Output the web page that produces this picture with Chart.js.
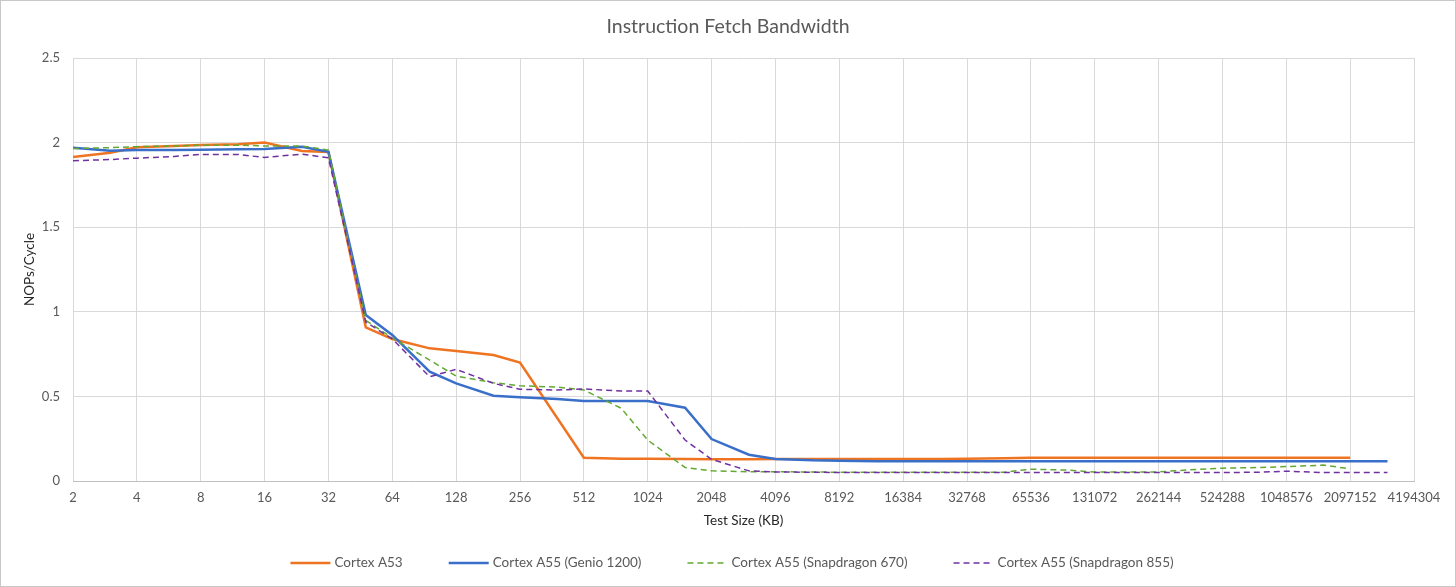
<!DOCTYPE html>
<html>
<head>
<meta charset="utf-8">
<title>Instruction Fetch Bandwidth</title>
<script src="https://cdn.jsdelivr.net/npm/chart.js@4.4.1/dist/chart.umd.min.js"></script>
<style>
  html, body { margin: 0; padding: 0; background: #fff; }
  #wrap { width: 1456px; height: 587px; }
</style>
</head>
<body>
<div id="wrap"><canvas id="fetch-chart" width="1456" height="587"></canvas></div>
<script>
// test sizes in KB and NOPs/cycle
const testSizesKB = [2, 3, 4, 6, 8, 12, 16, 24, 32, 48, 64, 96, 128, 192, 256, 384, 512, 768, 1024, 1536,
  2048, 3072, 4096, 6144, 8192, 12288, 16384, 24576, 32768, 49152, 65536, 98304, 131072, 196608, 262144,
  393216, 524288, 786432, 1048576, 1572864, 2097152, 3145728];

const cortexA53 = [1.915, 1.94, 1.972, 1.98, 1.986, 1.99, 2.0, 1.95, 1.945, 0.908, 0.839, 0.784, 0.768, 0.745, 0.70,
  null, 0.138, 0.132, 0.131, 0.13, 0.128, 0.128, 0.13, 0.13, 0.13, 0.13, 0.13, 0.13, 0.131, 0.134, 0.137,
  0.137, 0.137, 0.137, 0.137, 0.137, 0.137, 0.137, 0.137, 0.137, 0.137, null];

const cortexA55Genio = [1.97, 1.952, 1.956, 1.956, 1.958, 1.96, 1.962, 1.976, 1.946, 0.981, 0.863, 0.646, 0.577, 0.504, 0.495,
  0.485, 0.473, 0.473, 0.473, 0.433, 0.248, 0.155, 0.13, 0.122, 0.12, 0.117, 0.117, 0.117, 0.117, 0.117, 0.117,
  0.117, 0.117, 0.117, 0.117, 0.117, 0.117, 0.117, 0.117, 0.117, 0.117, 0.117];

const cortexA55Sd670 = [1.965, 1.97, 1.976, 1.98, 1.985, 1.985, 1.98, 1.98, 1.956, 0.95, 0.845, 0.715, 0.62, 0.581, 0.563,
  0.555, 0.538, 0.43, 0.242, 0.08, 0.06, 0.055, 0.055, 0.053, 0.052, 0.052, 0.052, 0.052, 0.052, 0.052, 0.07,
  0.064, 0.053, 0.053, 0.054, 0.068, 0.076, 0.08, 0.085, 0.094, 0.072, null];

const cortexA55Sd855 = [1.893, 1.90, 1.908, 1.918, 1.93, 1.93, 1.912, 1.932, 1.91, 0.94, 0.84, 0.616, 0.66, 0.577, 0.542,
  0.538, 0.544, 0.532, 0.532, 0.242, 0.128, 0.06, 0.053, 0.052, 0.05, 0.05, 0.05, 0.05, 0.05, 0.05, 0.05,
  0.05, 0.05, 0.05, 0.05, 0.05, 0.05, 0.052, 0.058, 0.05, 0.05, 0.05];

const sizeTicks = [2, 4, 8, 16, 32, 64, 128, 256, 512, 1024, 2048, 4096, 8192, 16384, 32768, 65536,
  131072, 262144, 524288, 1048576, 2097152, 4194304];

const yTicks = [0, 0.5, 1, 1.5, 2, 2.5];

const fontFamily = "Lato, 'Open Sans', sans-serif";

function toPoints(values) {
  return testSizesKB.map((s, i) => ({ x: s, y: values[i] }));
}

// legend drawn under the axis title, line + label like the office chart
const bottomLegend = {
  id: "bottomLegend",
  afterDraw(chart) {
    const ctx = chart.ctx;
    const sets = chart.data.datasets;
    const lineLen = 40, textGap = 4, itemGap = 46, y = 563;
    ctx.save();
    ctx.font = "13.5px " + fontFamily;
    const widths = sets.map(d => lineLen + textGap + ctx.measureText(d.label).width);
    const total = widths.reduce((a, b) => a + b, 0) + itemGap * (sets.length - 1);
    let x = (chart.width - total) / 2 + 4;
    sets.forEach((d, i) => {
      ctx.beginPath();
      ctx.setLineDash(d.borderDash || []);
      ctx.lineWidth = d.borderDash ? 1.5 : 2.5;
      ctx.strokeStyle = d.borderColor;
      ctx.moveTo(x, y);
      ctx.lineTo(x + lineLen, y);
      ctx.stroke();
      ctx.setLineDash([]);
      ctx.fillStyle = "#595959";
      ctx.textBaseline = "middle";
      ctx.fillText(d.label, x + lineLen + textGap, y);
      x += widths[i] + itemGap;
    });
    // outer frame
    ctx.strokeStyle = "#c8c8c8";
    ctx.lineWidth = 1;
    ctx.strokeRect(0.5, 0.5, chart.width - 1, chart.height - 1);
    ctx.restore();
  }
};

const ctx = document.getElementById("fetch-chart").getContext("2d");

const fetchChart = new Chart(ctx, {
  type: "line",
  data: {
    datasets: [
      {
        label: "Cortex A53",
        data: toPoints(cortexA53),
        borderColor: "#EF7422",
        borderWidth: 2.5,
        spanGaps: true,
        order: 3
      },
      {
        label: "Cortex A55 (Genio 1200)",
        data: toPoints(cortexA55Genio),
        borderColor: "#3A6FC9",
        borderWidth: 2.5,
        order: 2
      },
      {
        label: "Cortex A55 (Snapdragon 670)",
        data: toPoints(cortexA55Sd670),
        borderColor: "#62A832",
        borderWidth: 1.5,
        borderDash: [6, 4],
        order: 1
      },
      {
        label: "Cortex A55 (Snapdragon 855)",
        data: toPoints(cortexA55Sd855),
        borderColor: "#7030A0",
        borderWidth: 1.5,
        borderDash: [6, 4],
        order: 0
      }
    ]
  },
  options: {
    responsive: false,
    animation: false,
    elements: { point: { radius: 0 }, line: { tension: 0, fill: false } },
    layout: { padding: { left: 0, right: 0, top: 0, bottom: 54 } },
    plugins: {
      legend: { display: false },
      tooltip: { enabled: false },
      title: {
        display: true,
        text: "Instruction Fetch Bandwidth",
        color: "#595959",
        font: { family: fontFamily, size: 19.5, weight: "normal" },
        padding: { top: 15, bottom: 19.6 }
      }
    },
    scales: {
      x: {
        type: "logarithmic",
        min: 2,
        max: 4194304,
        afterBuildTicks: (axis) => { axis.ticks = sizeTicks.map(v => ({ value: v })); },
        afterFit: (axis) => { axis.height = 52; axis.paddingRight = 42; },
        ticks: {
          autoSkip: false,
          maxRotation: 0,
          padding: 9,
          color: "#595959",
          font: { family: fontFamily, size: 13 },
          callback: (v) => String(v)
        },
        grid: { color: "#d9d9d9", drawTicks: false },
        border: { color: "#c0c0c0" },
        title: {
          display: true,
          text: "Test Size (KB)",
          color: "#262626",
          font: { family: fontFamily, size: 13.5 },
          padding: { top: 4, bottom: 4 }
        }
      },
      y: {
        min: 0,
        max: 2.5,
        afterBuildTicks: (axis) => { axis.ticks = yTicks.map(v => ({ value: v })); },
        afterFit: (axis) => { axis.width = 73; },
        ticks: {
          padding: 13,
          color: "#595959",
          font: { family: fontFamily, size: 13 },
          callback: (v) => String(v)
        },
        grid: { color: "#d9d9d9", drawTicks: false },
        border: { display: false },
        title: {
          display: true,
          text: "NOPs/Cycle",
          color: "#262626",
          font: { family: fontFamily, size: 13.5 },
          padding: { top: 22, bottom: 0 }
        }
      }
    }
  },
  plugins: [bottomLegend]
});
</script>
</body>
</html>
